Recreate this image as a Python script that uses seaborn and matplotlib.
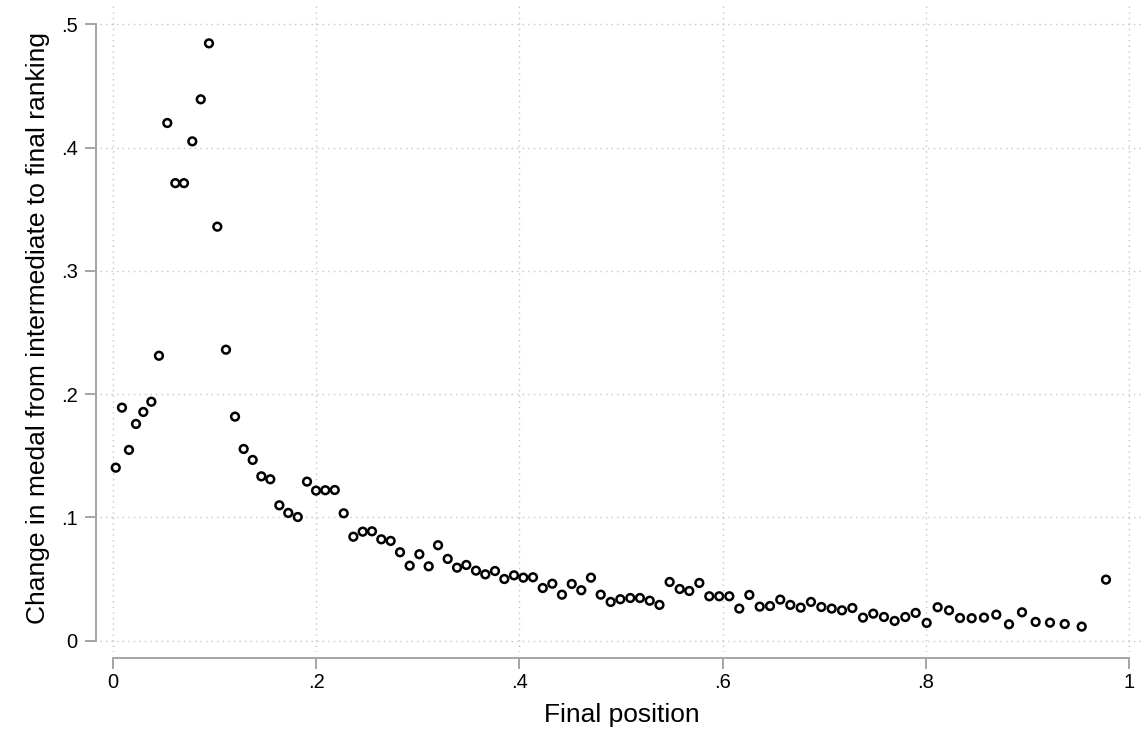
import numpy as np
import pandas as pd
import matplotlib
matplotlib.use("Agg")
import matplotlib.pyplot as plt
import seaborn as sns

final_position = [
    0.003, 0.0091, 0.016, 0.0229, 0.0301, 0.038, 0.0455, 0.0537, 0.0616, 0.0701,
    0.0783, 0.0866, 0.0947, 0.1029, 0.1114, 0.1203, 0.1288, 0.1377, 0.1462, 0.155,
    0.1639, 0.1727, 0.182, 0.1911, 0.2, 0.2091, 0.2184, 0.2272, 0.2367, 0.2459,
    0.255, 0.2642, 0.2734, 0.2826, 0.2921, 0.3016, 0.3108, 0.32, 0.3295, 0.3387,
    0.3478, 0.3573, 0.3665, 0.376, 0.3852, 0.3947, 0.4039, 0.4134, 0.423, 0.4324,
    0.4419, 0.4515, 0.4609, 0.4704, 0.48, 0.4898, 0.4993, 0.5091, 0.5186, 0.5282,
    0.5378, 0.5478, 0.5577, 0.5671, 0.577, 0.5868, 0.5966, 0.6065, 0.6163, 0.6262,
    0.6364, 0.6465, 0.6566, 0.6665, 0.6767, 0.6868, 0.697, 0.7072, 0.7173, 0.7275,
    0.738, 0.7481, 0.7586, 0.7691, 0.7796, 0.7898, 0.8006, 0.8114, 0.8226, 0.8334,
    0.8449, 0.857, 0.8691, 0.8816, 0.8944, 0.9078, 0.9219, 0.9364, 0.9531, 0.977,
]
medal_change = [
    0.1403, 0.189, 0.1547, 0.1758, 0.1855, 0.1938, 0.2311, 0.4199, 0.3711, 0.3711,
    0.405, 0.4391, 0.4845, 0.3358, 0.236, 0.1817, 0.1555, 0.1466, 0.1333, 0.1309,
    0.1098, 0.1036, 0.1003, 0.129, 0.1217, 0.122, 0.1222, 0.1033, 0.0843, 0.0884,
    0.0887, 0.0822, 0.0809, 0.0717, 0.0608, 0.0701, 0.0603, 0.0774, 0.0663, 0.0592,
    0.0614, 0.0568, 0.0538, 0.0565, 0.05, 0.053, 0.0511, 0.0514, 0.0427, 0.0462,
    0.0373, 0.046, 0.0409, 0.0511, 0.0373, 0.0314, 0.0336, 0.0346, 0.0346, 0.0324,
    0.029, 0.0476, 0.0419, 0.0403, 0.0468, 0.036, 0.036, 0.036, 0.026, 0.0371,
    0.0276, 0.0281, 0.0333, 0.029, 0.0268, 0.0314, 0.0273, 0.026, 0.0246, 0.0265,
    0.0187, 0.0219, 0.0192, 0.016, 0.0192, 0.0225, 0.0144, 0.0271, 0.0246, 0.0184,
    0.0182, 0.0187, 0.0211, 0.0133, 0.023, 0.0152, 0.0146, 0.0135, 0.0114, 0.0495,
]
x_ticks = [0, 0.2, 0.4, 0.6, 0.8, 1.0]
x_tick_labels = ["0", ".2", ".4", ".6", ".8", "1"]
y_ticks = [0, 0.1, 0.2, 0.3, 0.4, 0.5]
y_tick_labels = ["0", ".1", ".2", ".3", ".4", ".5"]

df = pd.DataFrame({"Final position": final_position, "Change": medal_change})

sns.set_theme(style="white")
plt.rcParams["font.family"] = ["Liberation Sans", "DejaVu Sans"]

W, H = 1143, 739
fig = plt.figure(figsize=(W / 100, H / 100), dpi=100)
ax = fig.add_axes([100 / W, 1 - 652 / H, (1143 - 100) / W, (652 - 5) / H])

sns.scatterplot(data=df, x="Final position", y="Change", ax=ax,
                marker="o", s=31, facecolors="none", edgecolor="black",
                linewidth=1.8, zorder=3)

ax.set_xlim(-0.0125, 1.0134)
ax.set_ylim(-0.0092, 0.5156)

ax.set_xticks(x_ticks)
ax.set_xticklabels(x_tick_labels)
ax.set_yticks(y_ticks)
ax.set_yticklabels(y_tick_labels)

ax.grid(True, linestyle=(0, (1, 3)), color="#c4c4c4", linewidth=1.0)
ax.set_axisbelow(True)

for s in ["top", "right"]:
    ax.spines[s].set_visible(False)
for s in ["left", "bottom"]:
    ax.spines[s].set_color("#a4a4a4")
    ax.spines[s].set_linewidth(1.4)
ax.spines["left"].set_position(("outward", 3))
ax.spines["bottom"].set_position(("outward", 4.3))
ax.spines["left"].set_bounds(0, 0.5)
ax.spines["bottom"].set_bounds(0, 1)

ax.tick_params(axis="both", which="major", direction="out", length=8, width=1.4,
               color="#a4a4a4", labelsize=14.5, labelcolor="black",
               bottom=True, left=True)
ax.tick_params(axis="x", pad=2.5)
ax.tick_params(axis="y", pad=5)

ax.set_xlabel("Final position", fontsize=19, color="black", labelpad=8)
ax.set_ylabel("Change in medal from intermediate to final ranking", fontsize=19,
              color="black", labelpad=8)

fig.savefig("out.png", dpi=100)
